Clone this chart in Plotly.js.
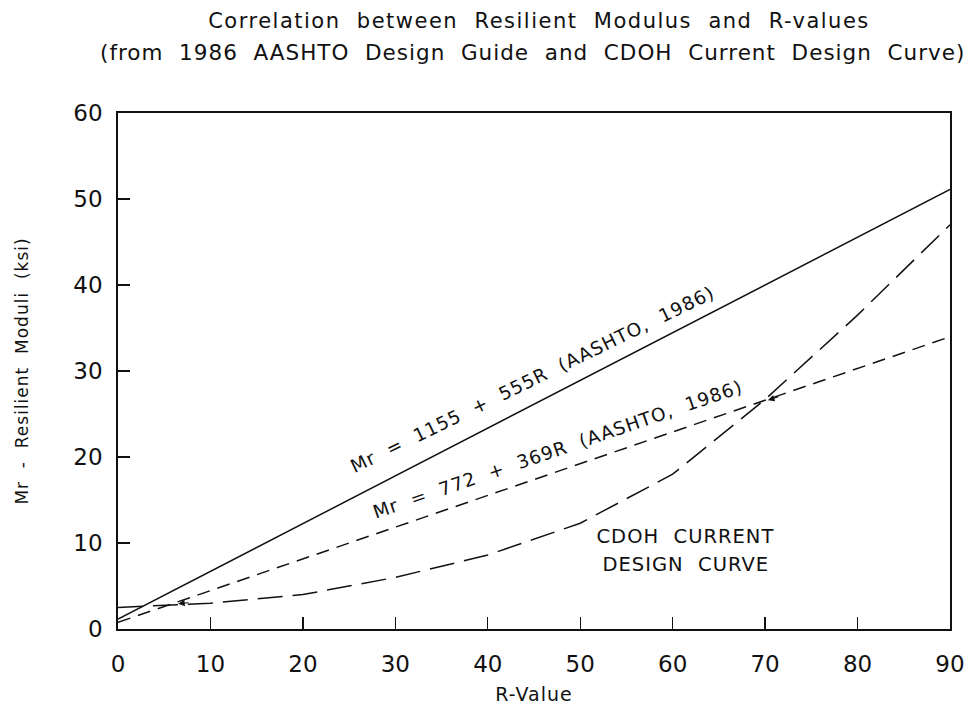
<!DOCTYPE html>
<html>
<head>
<meta charset="utf-8">
<script src="https://cdn.plot.ly/plotly-3.0.1.min.js"></script>
<style>
html,body{margin:0;padding:0;background:#fff;}
#chart{width:972px;height:717px;}
#chart .gtitle{letter-spacing:1.5px;}
#chart .annotation-text{letter-spacing:1px;}
#chart .xtitle,#chart .ytitle{letter-spacing:1px;}
</style>
</head>
<body>
<div id="chart"></div>
<script>
// R-values (x)
const rValues = [0, 10, 20, 30, 40, 50, 60, 70, 80, 90];
// AASHTO 1986: Mr = 1155 + 555R (psi) -> ksi
const aashtoUpper = [1.155, 6.705, 12.255, 17.805, 23.355, 28.905, 34.455, 40.005, 45.555, 51.105];
// AASHTO 1986: Mr = 772 + 369R (psi) -> ksi
const aashtoLower = [0.772, 4.462, 8.152, 11.842, 15.532, 19.222, 22.912, 26.602, 30.292, 33.982];
// CDOH current design curve
const cdohCurve = [2.5, 3.0, 4.0, 6.0, 8.6, 12.3, 18.0, 26.7, 36.5, 47.0];

const xTicks = [0, 10, 20, 30, 40, 50, 60, 70, 80, 90];
const yTicks = [0, 10, 20, 30, 40, 50, 60];

const S2 = '\u00a0\u00a0';
const titleLine1 = ['Correlation', 'between', 'Resilient', 'Modulus', 'and', 'R-values'].join(S2);
const titleLine2 = ['(from', '1986', 'AASHTO', 'Design', 'Guide', 'and', 'CDOH', 'Current', 'Design', 'Curve)'].join(S2);
const labelUpper = ['Mr', '=', '1155', '+', '555R', '(AASHTO,', '1986)'].join(S2);
const labelLower = ['Mr', '=', '772', '+', '369R', '(AASHTO,', '1986)'].join(S2);
const cdohLabel1 = ['CDOH', 'CURRENT'].join(S2);
const cdohLabel2 = ['DESIGN', 'CURVE'].join(S2);
const xTitle = 'R-Value';
const yTitle = ['Mr', '-', 'Resilient', 'Moduli', '(ksi)'].join(S2);

const FONT = 'DejaVu Sans';
const INK = '#111';

const traces = [
  {x: rValues, y: aashtoUpper, mode: 'lines', line: {color: INK, width: 1.5, dash: 'solid'}},
  {x: rValues, y: aashtoLower, mode: 'lines', line: {color: INK, width: 1.5, dash: '13px,8px'}},
  {x: rValues, y: cdohCurve, mode: 'lines', line: {color: INK, width: 1.5, dash: '25px,10px'}}
];

const arrowStyle = {text: '', showarrow: true, arrowhead: 2, arrowsize: 1.1, arrowwidth: 1.2, arrowcolor: INK, xref: 'x', yref: 'y'};

const layout = {
  width: 972, height: 717,
  paper_bgcolor: '#fff', plot_bgcolor: '#fff',
  showlegend: false,
  margin: {l: 118, r: 22, t: 113, b: 88},
  font: {family: FONT, color: INK},
  title: {text: titleLine1, font: {family: FONT, size: 21, color: INK},
          x: 539 / 972, xref: 'container', xanchor: 'center',
          y: 1 - 21 / 717, yref: 'container', yanchor: 'middle'},
  xaxis: {
    range: [0, 90], tickvals: xTicks, ticktext: xTicks.map(String),
    ticks: 'inside', ticklen: 12, tickwidth: 1.3, tickcolor: INK,
    showline: true, linecolor: INK, linewidth: 1.8, mirror: true,
    showgrid: false, zeroline: false,
    tickfont: {family: FONT, size: 23, color: INK},
    ticklabelstandoff: 14,
    title: {text: xTitle, font: {family: FONT, size: 19, color: INK}, standoff: 11}
  },
  yaxis: {
    range: [0, 60], tickvals: yTicks, ticktext: yTicks.map(String),
    ticks: 'inside', ticklen: 12, tickwidth: 1.3, tickcolor: INK,
    showline: true, linecolor: INK, linewidth: 1.8, mirror: true,
    showgrid: false, zeroline: false,
    tickfont: {family: FONT, size: 23, color: INK},
    ticklabelstandoff: 9,
    title: {text: yTitle, font: {family: FONT, size: 17, color: INK}, standoff: 40}
  },
  annotations: [
    {text: titleLine2, xref: 'paper', yref: 'paper', x: (532 - 118) / 832, y: (629 - 52) / 516,
     xanchor: 'center', yanchor: 'middle', showarrow: false, font: {family: FONT, size: 21.5, color: INK}},
    {text: labelUpper, xref: 'x', yref: 'y', x: 44.8, y: 29.0, textangle: -26, showarrow: false,
     font: {family: FONT, size: 18.5, color: INK}},
    {text: labelLower, xref: 'x', yref: 'y', x: 47.5, y: 20.9, textangle: -19, showarrow: false,
     font: {family: FONT, size: 18.5, color: INK}},
    {text: cdohLabel1, xref: 'x', yref: 'y', x: 61.4, y: 10.7, showarrow: false,
     font: {family: FONT, size: 19.5, color: INK}},
    {text: cdohLabel2, xref: 'x', yref: 'y', x: 61.4, y: 7.5, showarrow: false,
     font: {family: FONT, size: 19.5, color: INK}},
    Object.assign({x: 6.5, y: 2.95, ax: 12, ay: -1}, arrowStyle),
    Object.assign({x: 70.3, y: 26.6, ax: 12, ay: -4}, arrowStyle)
  ]
};

Plotly.newPlot('chart', traces, layout, {staticPlot: true, displayModeBar: false});
</script>
</body>
</html>
